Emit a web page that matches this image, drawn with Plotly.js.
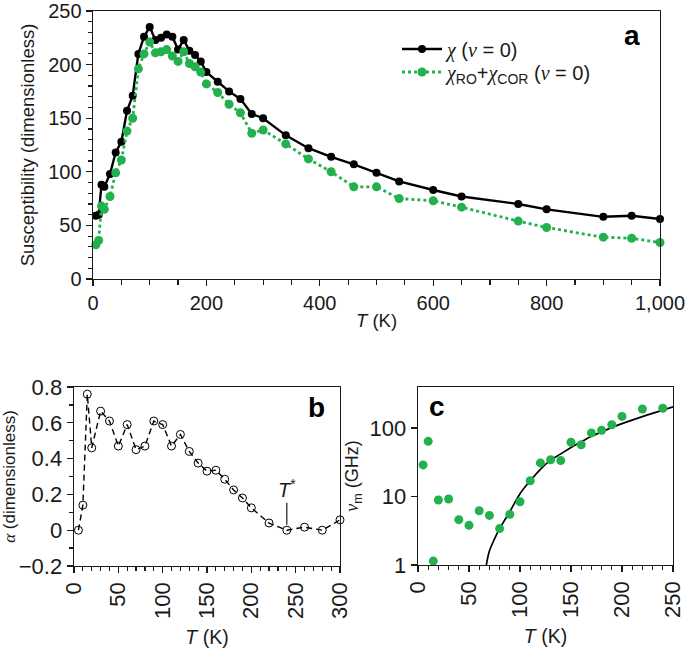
<!DOCTYPE html>
<html><head><meta charset="utf-8">
<script src="https://cdn.plot.ly/plotly-3.0.1.min.js"></script>
<style>html,body{margin:0;padding:0;background:#fff}#chart{width:685px;height:648px}</style>
</head><body><div id="chart"></div>
<script>
// Panel a
const tempA = [5,10,15,20,30,40,50,60,70,80,90,100,110,120,130,140,150,160,170,180,190,200,220,240,260,280,300,340,380,420,460,500,540,600,650,750,800,900,950,1000];
const chiTotal = [59,60,88,86,98,118,128,157,171,210,226,235,223,225,228,226,214,223,213,209,203,193,184,175,168,154,150,134,122,114,107,99,91,83,77,70,65,58,59,56];
const chiRoCor = [32,36,68,65,77,99,111,138,150,196,210,221,211,212,214,208,203,212,201,198,193,182,174,163,155,136,139,126,112,100,86,86,75,73,67,54,48,39,38,34];
// Panel b
const tempB = [5,10,15,20,30,40,50,60,70,80,90,100,110,120,130,140,150,160,170,180,190,200,220,240,260,280,300];
const alphaB = [0,0.14,0.76,0.46,0.665,0.61,0.47,0.59,0.45,0.47,0.61,0.59,0.47,0.535,0.44,0.375,0.33,0.335,0.285,0.225,0.18,0.125,0.04,0,0.017,0,0.058];
// Panel c
const tempC = [5,10,15,20,30,40,50,60,70,80,90,100,110,120,130,140,150,160,170,180,190,200,220,240];
const nuM = [29,64,1.14,8.9,9.2,4.6,3.8,6.2,5.3,3.4,5.5,8.4,17,31,34.5,33.5,62,57,85,93,112,148,190,195];
const fitT = [67,70,75,80,90,100,110,120,130,140,150,160,170,180,190,200,220,240,250];
const fitNu = [1,1.6,2.4,3.4,6,11,17,25,34,42,52,63,76,88,102,116,147,183,205];

const GREEN = '#22b14c';
const FONT = 'Liberation Sans, Arial, sans-serif';
const INK = '#1a1a1a';
const G = s => '<span style="font-family:Liberation Serif"><i>' + s + '</i></span>';

const traces = [
  {x: tempA, y: chiTotal, xaxis:'x', yaxis:'y', mode:'lines+markers', legend:'legend', cliponaxis:false, name: G('χ') + ' (' + G('ν') + ' = 0)',
   line:{color:'#000', width:2.4}, marker:{color:'#000', size:8}},
  {x: tempA, y: chiRoCor, xaxis:'x', yaxis:'y', mode:'lines+markers', legend:'legend2', cliponaxis:false, name: G('χ') + '<sub>RO</sub>+' + G('χ') + '<sub>COR</sub> (' + G('ν') + ' = 0)',
   line:{color:GREEN, width:2.8, dash:'dot'}, marker:{color:GREEN, size:9}},
  {x: tempB, y: alphaB, xaxis:'x2', yaxis:'y2', mode:'lines+markers', showlegend:false, cliponaxis:false,
   line:{color:'#000', width:1.4, dash:'6px,4px'}, marker:{symbol:'circle-open', color:'#000', size:8, line:{width:1}}},
  {x: fitT, y: fitNu, xaxis:'x3', yaxis:'y3', mode:'lines', showlegend:false, line:{color:'#000', width:1.7, shape:'spline'}},
  {x: tempC, y: nuM, xaxis:'x3', yaxis:'y3', mode:'markers', showlegend:false, marker:{color:GREEN, size:9}},
];

const base = {showgrid:false, zeroline:false, showline:true, linecolor:INK, linewidth:1.4, mirror:true,
  ticks:'outside', ticklen:6, tickwidth:1.2, tickcolor:INK, automargin:false, ticklabeloverflow:'allow',
  tickfont:{family:FONT, size:20, color:INK}, fixedrange:true};
const smallTick = {family:FONT, size:22, color:INK};
const tfontA = {family:FONT, size:18.5, color:INK};
const tfontB = {family:FONT, size:19.5, color:INK};
const legFont = {family:FONT, size:20, color:INK};

const layout = {
  width:685, height:648, paper_bgcolor:'#fff', plot_bgcolor:'#fff',
  margin:{l:0, r:0, t:0, b:0},
  showlegend:true,
  legend:{x:397/685, y:1-49/648, xanchor:'left', yanchor:'middle', bgcolor:'rgba(0,0,0,0)', font:legFont, itemwidth:40},
  legend2:{x:397/685, y:1-72/648, xanchor:'left', yanchor:'middle', bgcolor:'rgba(0,0,0,0)', font:legFont, itemwidth:40},
  xaxis: Object.assign({}, base, {domain:[93/685, 660/685], anchor:'y', range:[0,1000], dtick:200, separatethousands:true,
    minor:{dtick:50, ticks:'outside', ticklen:5, tickcolor:INK},
    title:{text:'<i>T</i> (K)', font:tfontA, standoff:0}}),
  yaxis: Object.assign({}, base, {domain:[1-279/648, 1-11/648], anchor:'x', range:[0,250], dtick:50,
    minor:{dtick:10, ticks:'outside', ticklen:4, tickcolor:INK},
    title:{text:'Susceptibility (dimensionless)', font:tfontA, standoff:8}}),
  xaxis2: Object.assign({}, base, {domain:[74/685, 340/685], anchor:'y2', range:[0,300], dtick:50, tickangle:-90, tickfont:smallTick,
    minor:{dtick:10, ticks:'outside', ticklen:4, tickcolor:INK},
    title:{text:'<i>T</i> (K)', font:tfontB, standoff:12}}),
  yaxis2: Object.assign({}, base, {domain:[1-566/648, 1-387/648], anchor:'x2', range:[-0.2,0.8], dtick:0.2, tickfont:smallTick,
    minor:{dtick:0.1, ticks:'outside', ticklen:4, tickcolor:INK},
    title:{text: G('α') + ' (dimensionless)', font:{family:FONT, size:17, color:INK}, standoff:6}}),
  xaxis3: Object.assign({}, base, {domain:[418/685, 673/685], anchor:'y3', range:[0,250], dtick:50, tickangle:-90, tickfont:smallTick,
    minor:{dtick:10, ticks:'outside', ticklen:4, tickcolor:INK},
    title:{text:'<i>T</i> (K)', font:tfontB, standoff:12}}),
  yaxis3: Object.assign({}, base, {domain:[1-565/648, 1-387/648], anchor:'x3', type:'log', range:[0,2.6], dtick:1, tickfont:smallTick,
    title:{text: G('ν') + '<sub>m</sub> (GHz)', font:{family:FONT, size:18, color:INK}, standoff:6}}),
  annotations:[
    {xref:'paper', yref:'paper', x:632/685, y:1-35/648, text:'<b>a</b>', showarrow:false, font:{family:FONT, size:28, color:'#000'}, xanchor:'center', yanchor:'middle'},
    {xref:'paper', yref:'paper', x:316/685, y:1-407/648, text:'<b>b</b>', showarrow:false, font:{family:FONT, size:28, color:'#000'}, xanchor:'center', yanchor:'middle'},
    {xref:'paper', yref:'paper', x:437/685, y:1-406/648, text:'<b>c</b>', showarrow:false, font:{family:FONT, size:28, color:'#000'}, xanchor:'center', yanchor:'middle'},
    {xref:'x2', yref:'y2', x:240, y:0.03, ax:0, ay:-36, text:'<i>T</i><sup>*</sup>', showarrow:true, arrowhead:0, arrowwidth:1.2, arrowcolor:INK,
     font:{family:FONT, size:20, color:INK}}
  ]
};

Plotly.newPlot('chart', traces, layout, {displayModeBar:false, staticPlot:true});
</script>
</body></html>
